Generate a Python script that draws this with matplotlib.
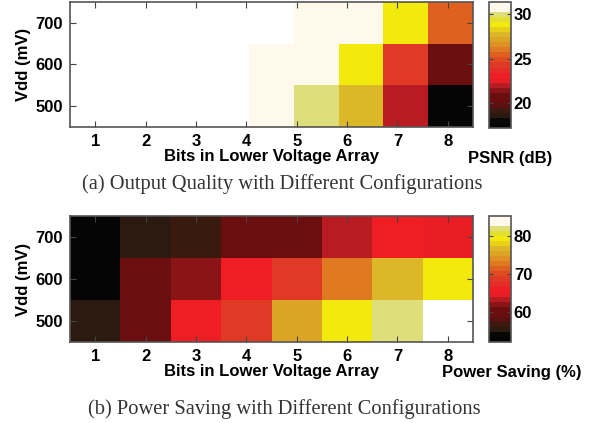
import matplotlib.pyplot as plt
import numpy as np
from matplotlib.colors import ListedColormap, Normalize

# eixos
vdd = [500, 600, 700]
bits = [1, 2, 3, 4, 5, 6, 7, 8]

# PSNR (dB) - 9 colunas no mapa de cima, inf = sem erro (branco)
inf = np.inf
psnr_500 = [inf, inf, inf, inf, 31.0, 29.9, 27.7, 22.0, 17.5]
psnr_600 = [inf, inf, inf, inf, 31.0, 31.0, 28.8, 24.3, 20.3]
psnr_700 = [inf, inf, inf, inf, inf, 31.0, 31.0, 28.8, 25.4]

# economia de energia (%)
save_500 = [55.4, 59.4, 66.0, 68.7, 75.3, 79.3, 82.0, 86.0]
save_600 = [52.8, 59.4, 62.1, 66.0, 68.7, 72.7, 76.7, 79.3]
save_700 = [52.8, 55.4, 57.0, 59.4, 59.4, 63.4, 66.0, 64.7]

cores = ['#050505', '#0a0806', '#2a1a0f', '#3a1a0e', '#5a1010', '#6b0e10',
         '#6b0e10', '#8a1416', '#b81c22', '#e81e24', '#ee1e24', '#e62c28',
         '#e03a26', '#e04a22', '#e06020', '#e07a22', '#e09024', '#dca424',
         '#dcb828', '#e8d018', '#f2ea0c', '#e4e030', '#dede7a', '#fff9ec',
         '#fff9ec']
cmap = ListedColormap(cores)
cmap.set_over('white')

plt.rcParams['font.family'] = ['Liberation Sans', 'DejaVu Sans']
plt.rcParams['font.weight'] = 'bold'

W, H = 597, 423
fig = plt.figure(figsize=(W / 100, H / 100), dpi=100)


def caixa(l, t, r, b):
    return fig.add_axes([l / W, 1 - b / H, (r - l) / W, (b - t) / H])


def estilo(ax):
    ax.set_xlim(0.5, 8.5)
    ax.set_ylim(450, 750)
    ax.set_xticks(bits)
    ax.set_yticks(vdd)
    ax.tick_params(direction='in', length=4, top=True, right=True,
                   labelsize=12, color='#444444', pad=5)
    for s in ax.spines.values():
        s.set_color('#555555')
        s.set_linewidth(1.2)
    ax.set_ylabel('Vdd (mV)', fontsize=12, fontweight='bold', labelpad=3)
    ax.set_xlabel('Bits in Lower Voltage Array', fontsize=12,
                  fontweight='bold', labelpad=0)


def barra(cax, ticks):
    cb = fig.colorbar(m, cax=cax, ticks=ticks)
    cb.outline.set_edgecolor('#555555')
    cb.outline.set_linewidth(1.2)
    cax.tick_params(direction='in', length=3, left=True, right=True,
                    labelsize=12, color='#444444', pad=2)
    return cb


y_edges = [450, 550, 650, 750]

# (a)
ax1 = caixa(70, 2, 473, 127)
x9 = np.linspace(0.5, 8.5, 10)
m = ax1.pcolormesh(x9, y_edges, np.array([psnr_500, psnr_600, psnr_700]),
                   cmap=cmap, norm=Normalize(17.2, 31.35))
estilo(ax1)
barra(caixa(489, 2, 511, 128), [20, 25, 30])
fig.text(510 / W, 1 - 158 / H, 'PSNR (dB)', ha='center', va='center',
         fontsize=12, fontweight='bold')
fig.text(282 / W, 1 - 184 / H, '(a) Output Quality with Different Configurations',
         ha='center', va='center', fontsize=14.8, color='#333333',
         family='Liberation Serif', fontweight='normal')

# (b)
ax2 = caixa(70, 216, 473, 342)
x8 = np.linspace(0.5, 8.5, 9)
m = ax2.pcolormesh(x8, y_edges, np.array([save_500, save_600, save_700]),
                   cmap=cmap, norm=Normalize(52.1, 85.3))
estilo(ax2)
barra(caixa(489, 216, 511, 342), [60, 70, 80])
fig.text(512 / W, 1 - 372 / H, 'Power Saving (%)', ha='center', va='center',
         fontsize=12, fontweight='bold')
fig.text(284 / W, 1 - 409 / H, '(b) Power Saving with Different Configurations',
         ha='center', va='center', fontsize=14.8, color='#333333',
         family='Liberation Serif', fontweight='normal')

fig.savefig('out.png', dpi=100)
